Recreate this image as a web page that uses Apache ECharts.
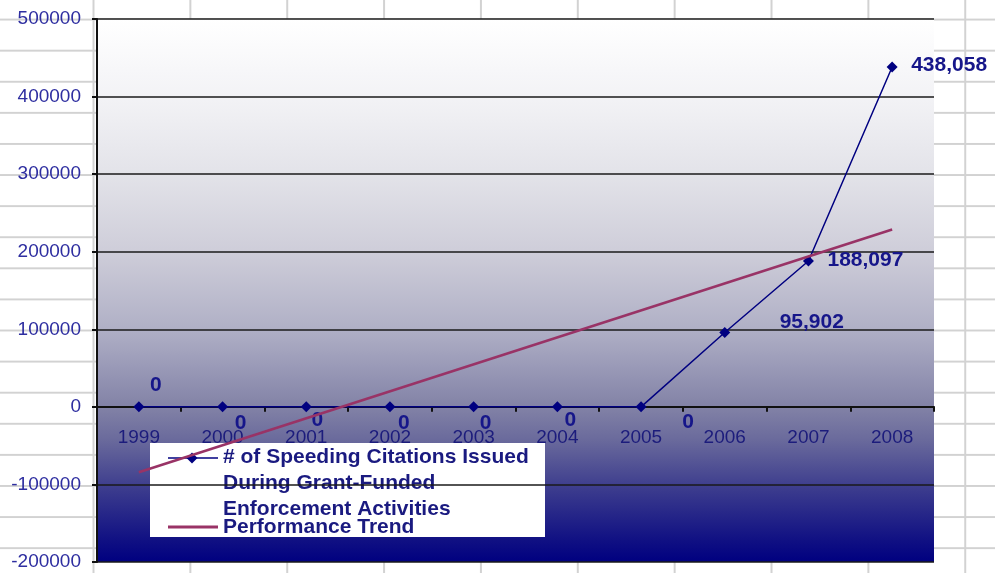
<!DOCTYPE html>
<html>
<head>
<meta charset="utf-8">
<script src="https://cdn.jsdelivr.net/npm/echarts@6/dist/echarts.min.js"></script>
<style>
  html, body { margin: 0; padding: 0; }
  body {
    width: 995px; height: 573px; overflow: hidden;
    background-color: #ffffff;
    background-image:
      linear-gradient(to right, #d2d2d2 0, #d2d2d2 1.5px, transparent 1.5px),
      linear-gradient(to bottom, #d2d2d2 0, #d2d2d2 1.5px, transparent 1.5px);
    background-size: 96.86px 31.1px, 96.86px 31.1px;
    background-position: 92.5px 0, 0 18.6px;
  }
  #chart { width: 995px; height: 573px; }
</style>
</head>
<body>
<div id="chart"></div>
<script>
// ---- data ----
const years = ['1999', '2000', '2001', '2002', '2003', '2004', '2005', '2006', '2007', '2008'];
const citations = [0, 0, 0, 0, 0, 0, 0, 95902, 188097, 438058];
// trend line end points, intermediate points left empty
const trend = [-84300, null, null, null, null, null, null, null, null, 228700];
const yTicks = { min: -200000, max: 500000, interval: 100000 };
const seriesNames = ['# of Speeding Citations Issued During Grant-Funded Enforcement Activities', 'Performance Trend'];
const legendLines = ['# of Speeding Citations Issued', 'During Grant-Funded', 'Enforcement Activities'];

// label placement (style, not data)
const labelOffsets = [[17, -22], [18, 16], [11, 13], [14, 16], [12, 16], [13, 13], [47, 15], [87, -10], [57, -1], [57, -2]];

const FONT = "'Liberation Sans', Arial, sans-serif";
const chart = echarts.init(document.getElementById('chart'), null, { renderer: 'canvas' });

const GRID = { left: 97, right: 61, top: 19, bottom: 11 };
const plotH = 573 - GRID.top - GRID.bottom;
// move the category axis (line, ticks and labels) up to the zero line of the value axis
const zeroOffset = -plotH * (0 - yTicks.min) / (yTicks.max - yTicks.min);

const plotGradient = new echarts.graphic.LinearGradient(0, 0, 0, 1, [
  { offset: 0, color: '#ffffff' },
  { offset: 0.14, color: '#f3f3f6' },
  { offset: 0.285, color: '#e3e3e9' },
  { offset: 0.43, color: '#cecdd9' },
  { offset: 0.57, color: '#b0b0c6' },
  { offset: 0.646, color: '#9898b6' },
  { offset: 0.715, color: '#8282a6' },
  { offset: 0.775, color: '#6a6a9c' },
  { offset: 0.86, color: '#3e3e8e' },
  { offset: 0.96, color: '#101083' },
  { offset: 1, color: '#000080' }
]);

const option = {
  backgroundColor: 'transparent',
  animation: false,
  grid: {
    left: GRID.left, right: GRID.right, top: GRID.top, bottom: GRID.bottom,
    containLabel: false,
    outerBoundsMode: 'none',
    show: true, backgroundColor: plotGradient, borderWidth: 0
  },
  xAxis: {
    type: 'category',
    data: years,
    boundaryGap: true,
    position: 'bottom',
    offset: zeroOffset,
    axisLine: { onZero: false, lineStyle: { color: '#111111', width: 2 } },
    axisTick: { show: true, length: 5, lineStyle: { color: '#111111', width: 2 } },
    axisLabel: { margin: 21, fontSize: 19, color: '#1c1c7c', fontFamily: FONT },
    splitLine: { show: false }
  },
  yAxis: {
    type: 'value',
    min: yTicks.min, max: yTicks.max, interval: yTicks.interval,
    axisLine: { show: true, lineStyle: { color: '#111111', width: 2 } },
    axisTick: { show: true, length: 5, lineStyle: { color: '#111111', width: 2 } },
    axisLabel: { margin: 16, fontSize: 19, color: '#2e2ea0', fontFamily: FONT, formatter: v => String(v) },
    splitLine: { show: true, lineStyle: { color: '#1a1a1a', width: 1.5 } }
  },
  series: [
    {
      name: seriesNames[0],
      type: 'line',
      data: citations.map((v, i) => ({ value: v, label: { offset: labelOffsets[i] } })),
      symbol: 'diamond',
      symbolSize: 11,
      itemStyle: { color: '#000080' },
      lineStyle: { color: '#000080', width: 1.5 },
      label: {
        show: true,
        position: 'inside',
        fontSize: 21,
        fontWeight: 'bold',
        fontFamily: FONT,
        color: '#16168a',
        formatter: p => Number(p.value).toLocaleString('en-US')
      },
      z: 3
    },
    {
      name: seriesNames[1],
      type: 'line',
      data: trend,
      connectNulls: true,
      symbol: 'none',
      lineStyle: { color: '#993366', width: 2.5 },
      itemStyle: { color: '#993366' },
      z: 4
    }
  ],
  graphic: [
    {
      type: 'group', z: 100,
      children: [
        { type: 'rect', shape: { x: 150, y: 443, width: 395, height: 94 }, style: { fill: '#ffffff' } },
        { type: 'line', shape: { x1: 168, y1: 458, x2: 218, y2: 458 }, style: { stroke: '#000080', lineWidth: 1.5 } },
        { type: 'polygon', shape: { points: [[192, 452.5], [197.5, 458], [192, 463.5], [186.5, 458]] }, style: { fill: '#000080' } },
        { type: 'line', shape: { x1: 168, y1: 527, x2: 218, y2: 527 }, style: { stroke: '#993366', lineWidth: 3 } },
        { type: 'text', x: 223, y: 457, style: { text: legendLines[0], font: 'bold 21px ' + FONT, fill: '#1a1a80', verticalAlign: 'middle' } },
        { type: 'text', x: 223, y: 483, style: { text: legendLines[1], font: 'bold 21px ' + FONT, fill: '#1a1a80', verticalAlign: 'middle' } },
        { type: 'text', x: 223, y: 509, style: { text: legendLines[2], font: 'bold 21px ' + FONT, fill: '#1a1a80', verticalAlign: 'middle' } },
        { type: 'text', x: 223, y: 527, style: { text: seriesNames[1], font: 'bold 21px ' + FONT, fill: '#1a1a80', verticalAlign: 'middle' } }
      ]
    }
  ]
};
chart.setOption(option);
</script>
</body>
</html>
